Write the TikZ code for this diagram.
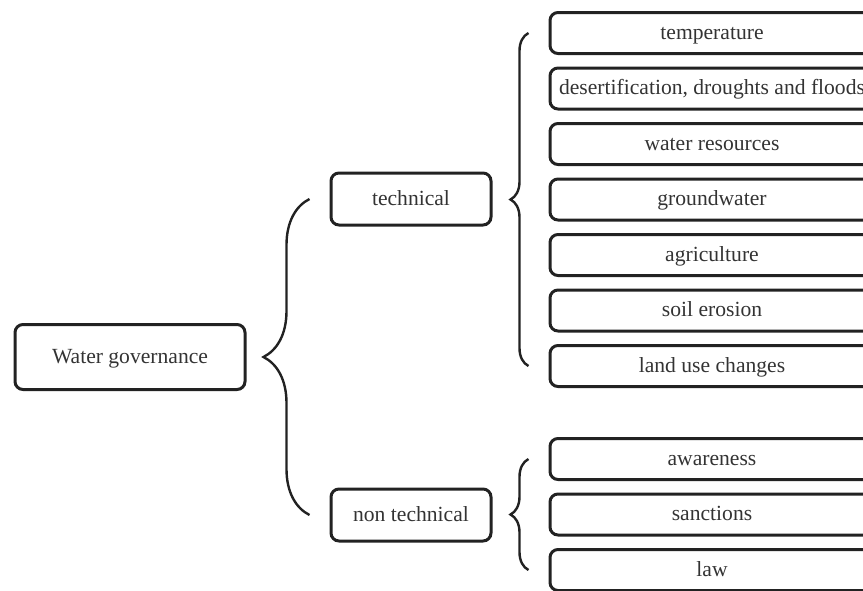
\documentclass[tikz,border=0pt]{standalone}
\usepackage{fontspec}
\setmainfont{Liberation Serif}
\usetikzlibrary{decorations.pathreplacing}
\definecolor{boxline}{HTML}{222222}
\definecolor{textgray}{HTML}{333333}
\begin{document}
\begin{tikzpicture}[x=0.5pt,y=-0.5pt,
    box/.style={draw=boxline,line width=1.5pt,rounded corners=4pt,text=textgray,
      font=\fontsize{10.8}{13}\selectfont,text height=1.9ex,text depth=0.5ex},
    leaf/.style={box,minimum width=162pt,minimum height=20.5pt},
    brc/.style={draw=boxline,line width=1.2pt,decorate,decoration={brace,amplitude=#1}}]
  \useasboundingbox (0,0) rectangle (863,590);
  \node[box,minimum width=115pt,minimum height=32.5pt] (wg) at (130,357) {Water governance};
  \node[box,minimum width=80pt,minimum height=26pt] (tech) at (411,199) {technical};
  \node[box,minimum width=80pt,minimum height=26pt] (nontech) at (411,515) {non technical};
  \foreach \t [count=\i] in {temperature,{desertification, droughts and floods},water resources,
      groundwater,agriculture,soil erosion,land use changes}
    \node[leaf] (t\i) at (712,{33+55.5*(\i-1)}) {\t};
  \foreach \t [count=\i] in {awareness,sanctions,law}
    \node[leaf] (n\i) at (712,{459+55.5*(\i-1)}) {\t};
  \draw[brc=23pt] ([xshift=-10pt]nontech.west) -- ([xshift=-10pt]tech.west);
  \draw[brc=9pt] ([xshift=-10pt]t7.west) -- ([xshift=-10pt]t1.west);
  \draw[brc=9pt] ([xshift=-10pt]n3.west) -- ([xshift=-10pt]n1.west);
\end{tikzpicture}
\end{document}
